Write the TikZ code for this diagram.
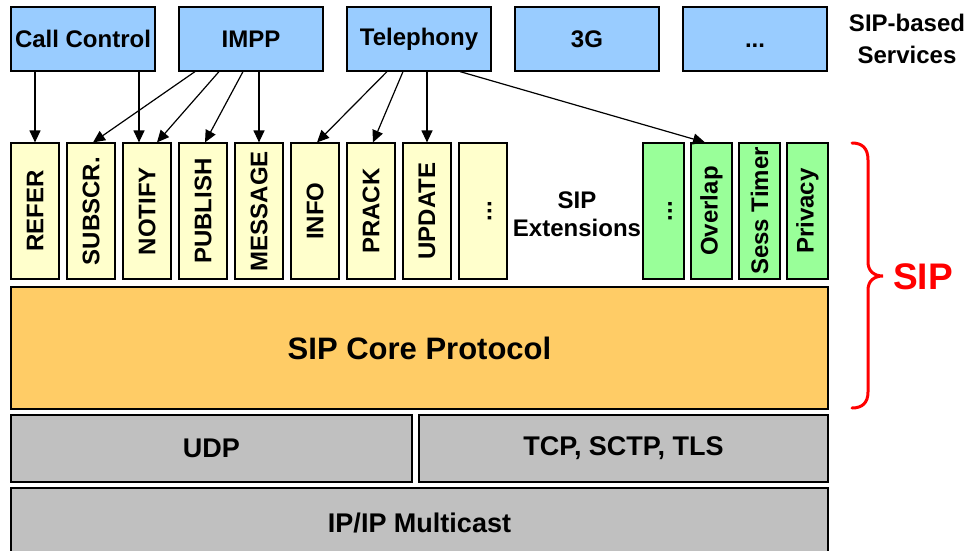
\documentclass[tikz,border=0pt]{standalone}
\usepackage{fontspec}
\setmainfont{Liberation Sans}
\usepackage{graphicx}
\usetikzlibrary{arrows.meta,calc}
\definecolor{svcblue}{HTML}{99CCFF}
\definecolor{extyellow}{HTML}{FFFFCC}
\definecolor{extgreen}{HTML}{99FF99}
\definecolor{coreorange}{HTML}{FFCC66}
\definecolor{laygray}{HTML}{C0C0C0}
\definecolor{sipred}{HTML}{FF0000}
\begin{document}
\begin{tikzpicture}[x=1pt,y=-1pt,
  box/.style={draw=black, line width=1.2pt, inner sep=0pt, align=center,
    font=\bfseries\fontsize{24}{28}\selectfont},
  svc/.style={box, fill=svcblue, minimum width=144pt, minimum height=64pt},
  ext/.style={box, fill=extyellow, minimum width=48pt, minimum height=136pt},
  extg/.style={box, fill=extgreen, minimum width=41pt, minimum height=136pt},
  layer/.style={box, fill=laygray, font=\bfseries\fontsize{27}{32}\selectfont},
  plain/.style={inner sep=0pt, align=center, font=\bfseries\fontsize{24}{32}\selectfont},
  arr/.style={-{Triangle[length=12pt,width=11pt]}, line width=1.2pt}]
\useasboundingbox (0,0) rectangle (974,550);
\clip (0,0) rectangle (974,550);

% services
\node[svc] (cc)   at (83,39)  {Call Control};
\node[svc] (impp) at (251,39) {IMPP};
\node[svc] (tel)  at (419,39) {Telephony};
\node[svc] (g3)   at (587,39) {3G};
\node[svc] (sdots) at (755,39) {\vphantom{A}...};
\node[plain] (services) at (907,39) {SIP-based\\Services};

% extensions
\node[ext] (refer)   at (35,211)  {\rotatebox{90}{REFER}};
\node[ext] (subscr)  at (91,211)  {\rotatebox{90}{SUBSCR.}};
\node[ext] (notify)  at (147,211) {\rotatebox{90}{NOTIFY}};
\node[ext] (publish) at (203,211) {\rotatebox{90}{PUBLISH}};
\node[ext] (message) at (259,211) {\rotatebox{90}{MESSAGE}};
\node[ext] (info)    at (315,211) {\rotatebox{90}{INFO}};
\node[ext] (prack)   at (371,211) {\rotatebox{90}{PRACK}};
\node[ext] (update)  at (427,211) {\rotatebox{90}{UPDATE}};
\node[ext] (edots)   at (483,211) {\rotatebox{90}{\vphantom{A}...}};
\node[plain, font=\bfseries\fontsize{24}{28}\selectfont] (extlabel) at (577,214) {SIP\\Extensions};
\node[extg] (gdots)   at (663.5,211) {\rotatebox{90}{\vphantom{A}...}};
\node[extg] (overlap) at (711.5,211) {\rotatebox{90}{Overlap}};
\node[extg] (sess)    at (759.5,211) {\rotatebox{90}{Sess Timer}};
\node[extg] (privacy) at (807.5,211) {\rotatebox{90}{Privacy}};

% core and transport
\node[box, fill=coreorange, minimum width=817pt, minimum height=122pt,
  font=\bfseries\fontsize{31}{36}\selectfont] (core) at (419.5,348) {SIP Core Protocol};
\node[layer, minimum width=401pt, minimum height=67pt] (udp) at (211.5,448.5) {UDP};
\node[layer, minimum width=409pt, minimum height=67pt] (tcp) at (623.5,448.5) {TCP, SCTP, TLS};
\node[layer, minimum width=817pt, minimum height=70pt] (ip) at (419.5,523) {IP/IP Multicast};

% brace and SIP label
\draw[sipred, line width=3pt, line cap=round]
  (852,143) .. controls (862,143) and (868,148) .. (868,160) -- (868,262)
  .. controls (868,271) and (874,276) .. (883,276)
  .. controls (874,276) and (868,281) .. (868,290) -- (868,392)
  .. controls (868,403) and (862,408) .. (852,408);
\node[inner sep=0pt, text=sipred, font=\bfseries\fontsize{37}{40}\selectfont] (sip) at (923,277) {SIP};

% arrow end points
\coordinate (ccN) at ($(notify.north)+(-8,0)$);
\coordinate (ccNs) at (ccN |- cc.south);

% arrows
\draw[arr] (refer.north |- cc.south) -- (refer.north);
\draw[arr] (ccNs) -- (ccN);
\draw[arr] ($(impp.south)+(-56,0)$) -- ($(subscr.north)+(2,0)$);
\draw[arr] ($(impp.south)+(-32,0)$) -- ($(notify.north)+(10,0)$);
\draw[arr] ($(impp.south)+(-8,0)$) -- ($(publish.north)+(2,0)$);
\draw[arr] (message.north |- impp.south) -- (message.north);
\draw[arr] ($(tel.south)+(-32,0)$) -- ($(info.north)+(2,0)$);
\draw[arr] ($(tel.south)+(-16,0)$) -- ($(prack.north)+(2,0)$);
\draw[arr] (update.north |- tel.south) -- (update.north);
\draw[arr] ($(tel.south)+(41,0)$) -- ($(overlap.north)+(-6.5,0)$);
\end{tikzpicture}
\end{document}
